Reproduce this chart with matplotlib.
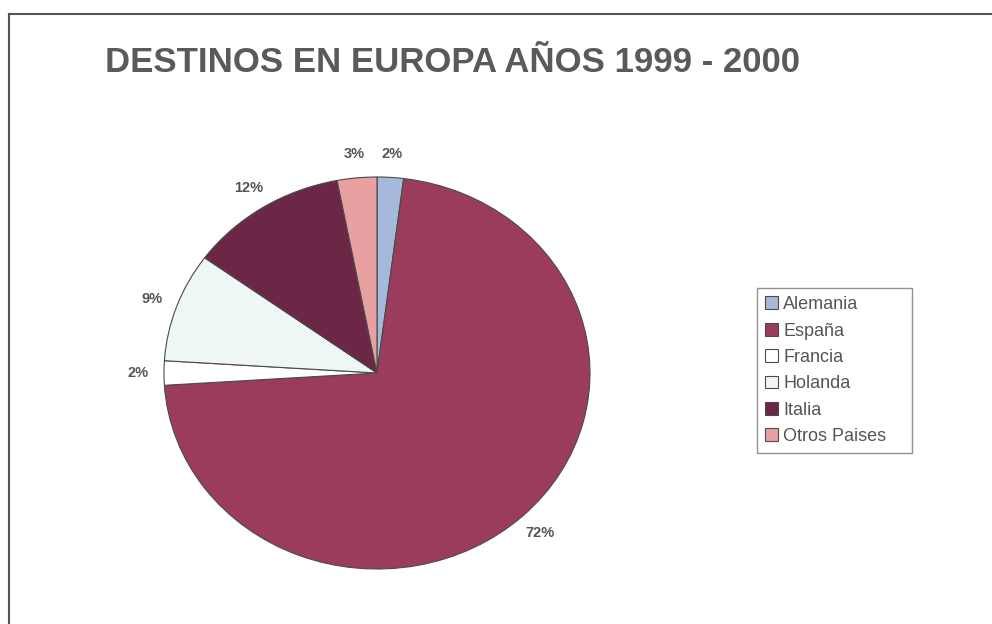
import matplotlib.pyplot as plt
from matplotlib.lines import Line2D

plt.rcParams['font.family'] = ['Liberation Sans', 'DejaVu Sans']

# datos
paises = ['Alemania', 'España', 'Francia', 'Holanda', 'Italia', 'Otros Paises']
porcentajes = [2, 72, 2, 9, 12, 3]
colores = ['#a7b9da', '#9b3c5d', '#ffffff', '#eef6f6', '#6c2747', '#e9a0a0']

fig = plt.figure(figsize=(9.92, 6.24), dpi=100)

# marco del grafico (solo arriba e izquierda visibles)
fig.add_artist(Line2D([9/992, 1], [1 - 14/624, 1 - 14/624], color='#555555', lw=1.5))
fig.add_artist(Line2D([9/992, 9/992], [0, 1 - 14/624], color='#555555', lw=1.5))

fig.text(105/992, 1 - 62/624, 'DESTINOS EN EUROPA AÑOS 1999 - 2000',
         fontsize=25, fontweight='bold', color='#5a5a5a', va='center', ha='left')

# pie ligeramente eliptico
cx, cy, rx, ry = 377, 373, 213, 196
ax = fig.add_axes([(cx - rx)/992, (624 - cy - ry)/624, 2*rx/992, 2*ry/624])
wedges, texts, autotexts = ax.pie(porcentajes, colors=colores, startangle=90, counterclock=False,
                                  autopct='%d%%', pctdistance=1.12,
                                  wedgeprops=dict(edgecolor='#4a4a4a', linewidth=0.8))
for t in autotexts:
    t.set_fontsize(10.5)
    t.set_fontweight('bold')
    t.set_color('#555555')
ax.set_aspect('auto')
ax.set_xlim(-1, 1)
ax.set_ylim(-1, 1)
ax.axis('off')

leg = fig.legend(wedges, paises, loc='upper left', mode='expand',
                 bbox_to_anchor=(757/992, 1 - 288/624, 155/992, 0),
                 fontsize=13, frameon=True, fancybox=False, edgecolor='#777777',
                 handlelength=0.7, handleheight=0.7, handletextpad=0.3,
                 labelspacing=0.52, borderpad=0.45, borderaxespad=0)
for t in leg.get_texts():
    t.set_color('#555555')

plt.savefig('out.png', dpi=100)
